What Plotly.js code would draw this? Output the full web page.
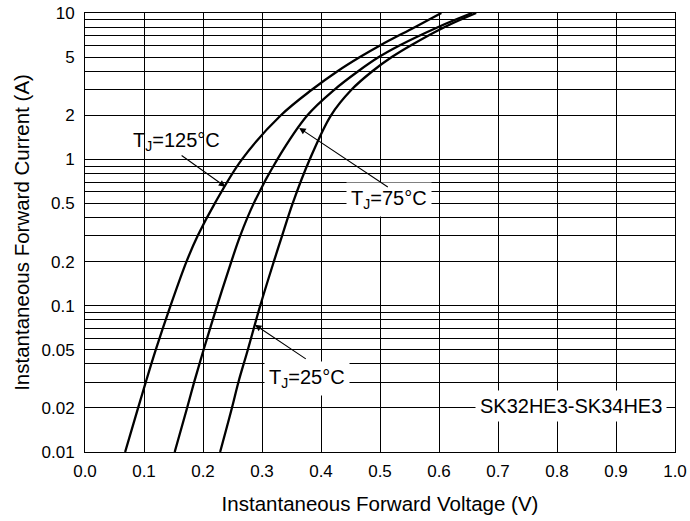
<!DOCTYPE html>
<html>
<head>
<meta charset="utf-8">
<script src="https://cdn.plot.ly/plotly-3.0.1.min.js"></script>
<style>html,body{margin:0;padding:0;background:#fff;}#chart{width:690px;height:521px;}</style>
</head>
<body>
<div id="chart"></div>
<script>
// Forward current samples (A)
var currentA = [0.01, 0.02, 0.03, 0.05, 0.1, 0.2, 0.3, 0.5, 1, 2, 3, 4, 5, 6, 8, 10];
// Forward voltage (V) read at each current, per junction temperature
var v125 = [0.068, 0.090, 0.103, 0.120, 0.145, 0.172, 0.191, 0.220, 0.266, 0.332, 0.385, 0.428, 0.466, 0.500, 0.559, 0.604];
var v75  = [0.152, 0.173, 0.185, 0.201, 0.224, 0.248, 0.263, 0.286, 0.326, 0.377, 0.423, 0.463, 0.498, 0.533, 0.598, 0.656];
var v25  = [0.229, 0.249, 0.260, 0.276, 0.297, 0.320, 0.334, 0.352, 0.381, 0.417, 0.452, 0.487, 0.520, 0.552, 0.609, 0.663];

var xTickVals = [0, 0.1, 0.2, 0.3, 0.4, 0.5, 0.6, 0.7, 0.8, 0.9, 1.0];
var yTickVals = [0.01, 0.02, 0.05, 0.1, 0.2, 0.5, 1, 2, 5, 10];
var yTickText = ["0.01", "0.02", "0.05", "0.1", "0.2", "0.5", "1", "2", "5", "10"];
var yMinorVals = [0.03, 0.04, 0.06, 0.07, 0.08, 0.09,
                  0.3, 0.4, 0.6, 0.7, 0.8, 0.9,
                  3, 4, 6, 7, 8, 9];

var labels = {
  t125: "T<sub>J</sub>=125°C",
  t75: "T<sub>J</sub>=75°C",
  t25: "T<sub>J</sub>=25°C",
  part: "SK32HE3-SK34HE3"
};

var FONT = "Liberation Sans, Arial, sans-serif";
var lineStyle = {color: "#000", width: 2.3, shape: "spline", smoothing: 1};

var traces = [
  {x: v125, y: currentA, mode: "lines", line: lineStyle, hoverinfo: "skip"},
  {x: v75,  y: currentA, mode: "lines", line: lineStyle, hoverinfo: "skip"},
  {x: v25,  y: currentA, mode: "lines", line: lineStyle, hoverinfo: "skip"}
];

function L(v){ return Math.log10(v); }

var annFont = {family: FONT, size: 20, color: "#000"};
var arrowStyle = {showarrow: true, arrowhead: 2, arrowsize: 1.2, arrowwidth: 1.1, arrowcolor: "#000",
                  xref: "x", yref: "y", axref: "x", ayref: "y", text: " "};
function arrow(x, y, ax, ay){ return Object.assign({x: x, y: y, ax: ax, ay: ay}, arrowStyle); }

var annotations = [
  {x: 0.155, y: L(1.32), xref: "x", yref: "y", text: labels.t125, showarrow: false, font: annFont},
  {x: 0.515, y: L(0.53), xref: "x", yref: "y", text: labels.t75, showarrow: false, font: annFont, bgcolor: "#fff", borderpad: 4},
  {x: 0.377, y: L(0.032), xref: "x", yref: "y", text: labels.t25, showarrow: false, font: annFont, bgcolor: "#fff", borderpad: 4},
  {x: 0.824, y: L(0.0207), xref: "x", yref: "y", text: labels.part, showarrow: false, font: annFont, bgcolor: "#fff", borderpad: 4},
  arrow(0.238, L(0.65), 0.157, L(1.11)),
  arrow(0.363, L(1.64), 0.520, L(0.62)),
  arrow(0.288, L(0.074), 0.381, L(0.0415))
];

var gridCommon = {showgrid: true, gridcolor: "#000", gridwidth: 1,
  zeroline: false, showline: true, linecolor: "#000", linewidth: 1, mirror: true};

var layout = {
  width: 690, height: 521,
  margin: {l: 85, r: 15, t: 13, b: 69},
  paper_bgcolor: "#fff", plot_bgcolor: "#fff",
  showlegend: false,
  font: {family: FONT, color: "#000", size: 17},
  xaxis: Object.assign({
    range: [0, 1.0], tickvals: xTickVals, tickformat: ".1f",
    ticks: "outside", ticklen: 4, tickcolor: "rgba(0,0,0,0)",
    tickfont: {family: FONT, size: 17, color: "#000"},
    title: {text: "Instantaneous Forward Voltage (V)", font: {family: FONT, size: 20.5, color: "#000"}, standoff: 16}
  }, gridCommon),
  yaxis: Object.assign({
    type: "log", range: [-2, 1], tickvals: yTickVals, ticktext: yTickText,
    minor: {tickvals: yMinorVals, showgrid: true, gridcolor: "#000", gridwidth: 1, ticks: ""},
    ticks: "outside", ticklen: 6, tickcolor: "rgba(0,0,0,0)",
    tickfont: {family: FONT, size: 17, color: "#000"},
    title: {text: "Instantaneous Forward Current (A)", font: {family: FONT, size: 20.5, color: "#000"}, standoff: 6}
  }, gridCommon),
  annotations: annotations
};

Plotly.newPlot("chart", traces, layout, {staticPlot: true, displayModeBar: false});
</script>
</body>
</html>
